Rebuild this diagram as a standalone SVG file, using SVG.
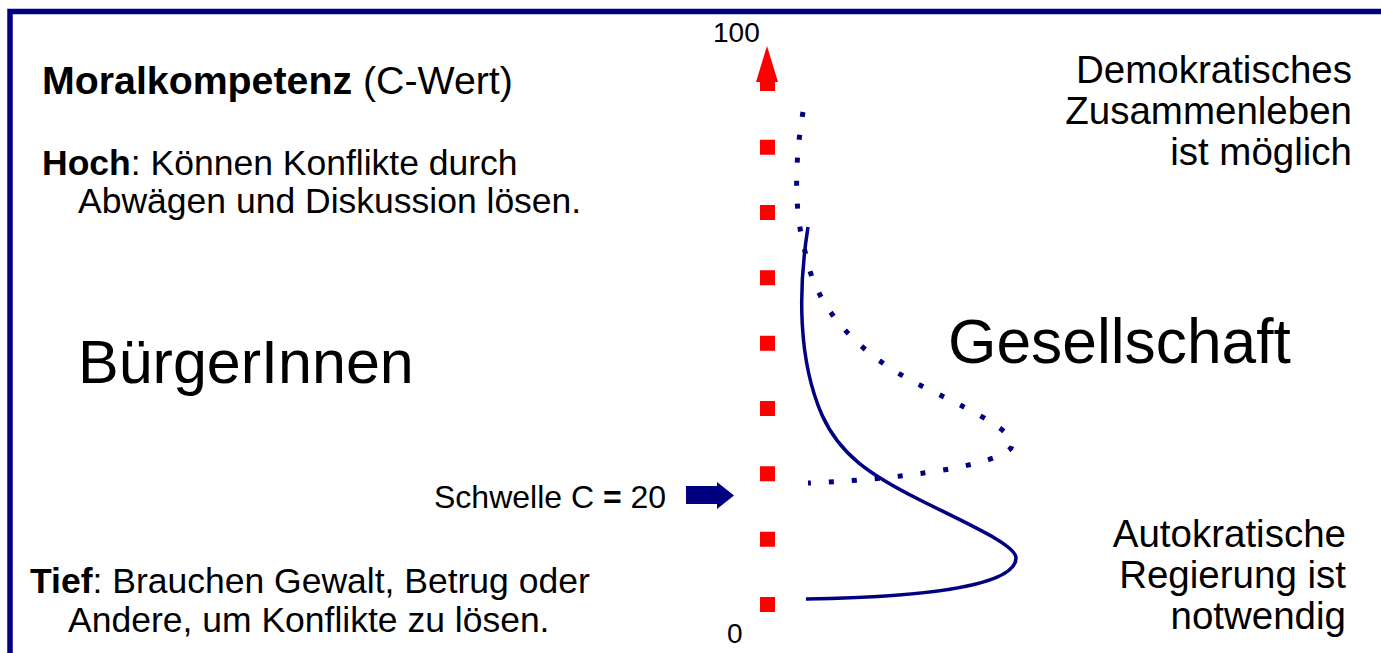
<svg xmlns="http://www.w3.org/2000/svg" width="1381" height="653" viewBox="0 0 1381 653">
<style>
text{font-family:"Liberation Sans",Arial,sans-serif;fill:#000}
.b{font-weight:bold}
.t35{font-size:35.5px}
.t38{font-size:38.5px}
.navy{stroke:#000080;fill:none}
</style>
<rect x="0" y="0" width="1381" height="653" fill="#fff"/>
<g id="border"><rect x="10" y="11.5" width="1400" height="700" fill="none" stroke="#000080" stroke-width="5.5"/></g>
<g id="axis">
<line x1="767.5" y1="612" x2="767.5" y2="76" stroke="#f00" stroke-width="15" stroke-dasharray="15 50.33"/>
<polygon points="767,46 778,82 775,82 775,91 760,91 760,82 756,82" fill="#f00"/>
<text x="713" y="42" font-size="28px">100</text>
<text x="727" y="643" font-size="28px">0</text>
</g>
<g id="connectors">
<path class="navy" stroke-width="5" stroke-dasharray="5 18" d="M803,112 C795,160 793,210 806,255 C815,305 855,355 930,390 C980,415 1012,430 1012,445 C1012,460 930,478 808,483"/>
<path class="navy" stroke-width="3.5" d="M808,227 C798,290 798,360 822,415 C840,455 870,475 920,500 C970,525 1016,545 1016,558 C1016,585 930,597 806,599"/>
<polygon points="686,486 717,486 717,482 734,495.5 717,509 717,504 686,504" fill="#000080"/>
</g>
<g id="title"><text x="42" y="94" font-size="39.3px"><tspan class="b">Moralkompetenz</tspan> (C-Wert)</text></g>
<g id="hoch">
<text class="t35" x="42" y="175"><tspan class="b">Hoch</tspan>: Können Konflikte durch</text>
<text class="t35" x="78" y="213">Abwägen und Diskussion lösen.</text>
</g>
<g id="buerger"><text x="78" y="383" font-size="61px">BürgerInnen</text></g>
<g id="gesellschaft"><text x="948" y="363" font-size="62.3px">Gesellschaft</text></g>
<g id="schwelle"><text x="434" y="508" font-size="32px">Schwelle C <tspan class="b">=</tspan> 20</text></g>
<g id="tief">
<text class="t35" x="30" y="593"><tspan class="b">Tief</tspan>: Brauchen Gewalt, Betrug oder</text>
<text class="t35" x="68" y="632">Andere, um Konflikte zu lösen.</text>
</g>
<g id="demokratisch">
<text class="t38" text-anchor="end" x="1352" y="83">Demokratisches</text>
<text class="t38" text-anchor="end" x="1352" y="124">Zusammenleben</text>
<text class="t38" text-anchor="end" x="1352" y="165">ist möglich</text>
</g>
<g id="autokratisch">
<text class="t38" text-anchor="end" x="1346" y="547">Autokratische</text>
<text class="t38" text-anchor="end" x="1346" y="588">Regierung ist</text>
<text class="t38" text-anchor="end" x="1346" y="629">notwendig</text>
</g>
</svg>
